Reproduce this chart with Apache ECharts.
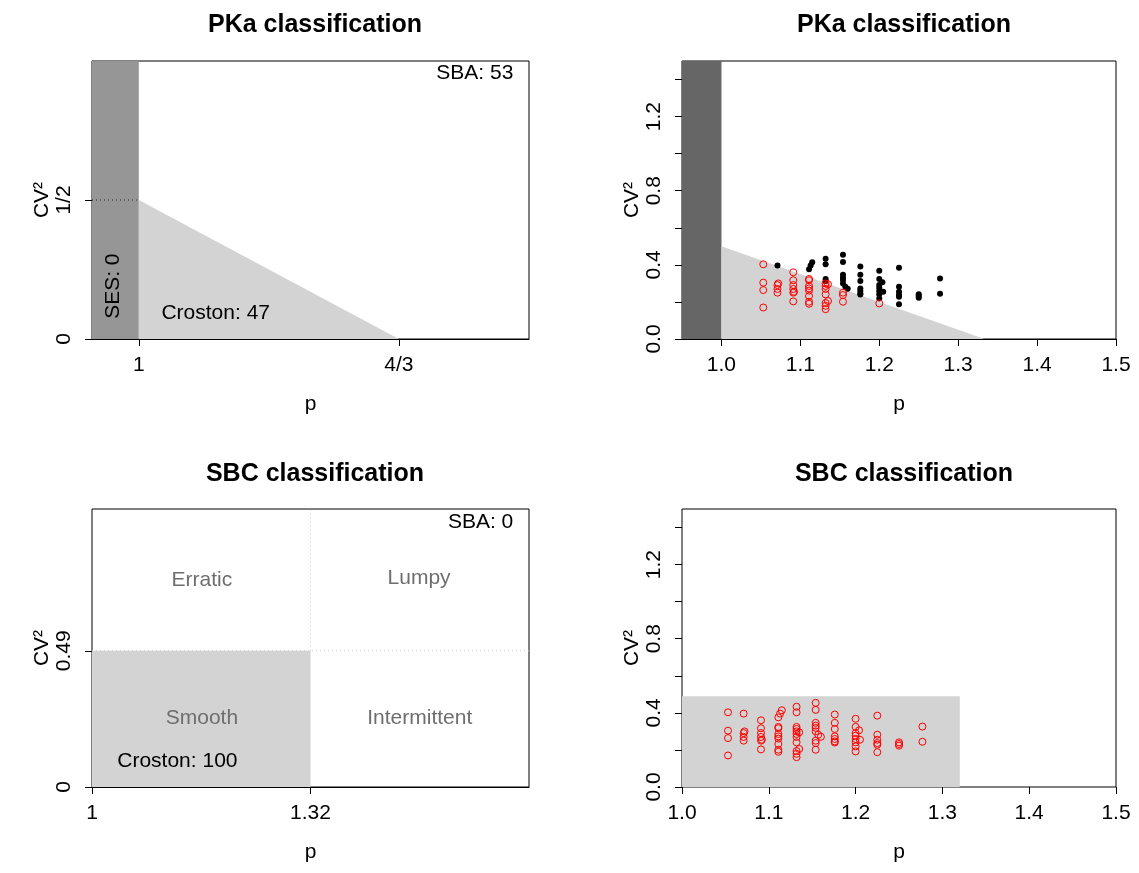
<!DOCTYPE html>
<html>
<head>
<meta charset="utf-8">
<script src="https://cdn.jsdelivr.net/npm/echarts@6/dist/echarts.min.js"></script>
<style>
  html, body { margin: 0; padding: 0; background: #fff; }
  #main { width: 1139px; height: 873px; }
</style>
</head>
<body>
<div id="main"></div>
<script>
// demand series: p (inter-demand interval) and CV^2
const pVals = [
  1.053, 1.053, 1.053, 1.053,
  1.071, 1.072, 1.071, 1.071, 1.071,
  1.091, 1.091, 1.091, 1.091, 1.092, 1.091, 1.091,
  1.115, 1.113, 1.111, 1.111, 1.111, 1.111, 1.111, 1.111, 1.111, 1.111, 1.111,
  1.132, 1.132, 1.132, 1.132, 1.132, 1.135, 1.132, 1.132, 1.132, 1.135, 1.132, 1.132, 1.132,
  1.154, 1.154, 1.154, 1.154, 1.154, 1.154, 1.157, 1.160, 1.154, 1.154, 1.154,
  1.176, 1.176, 1.176, 1.176, 1.176, 1.176, 1.176,
  1.200, 1.200, 1.204, 1.200, 1.200, 1.200, 1.205, 1.200, 1.200, 1.200,
  1.225, 1.225, 1.225, 1.225, 1.225, 1.225,
  1.250, 1.250, 1.250,
  1.277, 1.277
];
const cvVals = [
  0.403, 0.304, 0.264, 0.170,
  0.396, 0.300, 0.291, 0.270, 0.250,
  0.360, 0.317, 0.291, 0.270, 0.255, 0.250, 0.203,
  0.414, 0.396, 0.376, 0.324, 0.317, 0.286, 0.273, 0.261, 0.232, 0.201, 0.190,
  0.433, 0.403, 0.324, 0.313, 0.300, 0.295, 0.286, 0.270, 0.241, 0.205, 0.194, 0.179, 0.161,
  0.454, 0.416, 0.346, 0.331, 0.319, 0.300, 0.282, 0.271, 0.250, 0.237, 0.201,
  0.391, 0.346, 0.313, 0.273, 0.259, 0.246, 0.240,
  0.368, 0.324, 0.306, 0.291, 0.277, 0.259, 0.255, 0.241, 0.219, 0.192,
  0.385, 0.282, 0.255, 0.237, 0.228, 0.188,
  0.241, 0.232, 0.223,
  0.326, 0.244
];

// classification cut-offs
const sesLimit = 1;
const pkaPCut = 1.3333;
const pkaCvCut = 0.5;
const sbcPCut = 1.32;
const sbcCvCut = 0.49;

// counts shown on the plots
const pkaCounts = { ses: 0, croston: 47, sba: 53 };
const sbcCounts = { croston: 100, sba: 0 };

// tick values and labels
const pkaTicksP = [1, 1.3333];
const pkaTickLabelsP = ['1', '4/3'];
const pkaTicksCv = [0, 0.5];
const pkaTickLabelsCv = ['0', '1/2'];
const sbcTicksP = [1, 1.32];
const sbcTickLabelsP = ['1', '1.32'];
const sbcTicksCv = [0, 0.49];
const sbcTickLabelsCv = ['0', '0.49'];
const pTicks = [1.0, 1.1, 1.2, 1.3, 1.4, 1.5];
const cvTicks = [0, 0.2, 0.4, 0.6, 0.8, 1.0, 1.2, 1.4];
const cvTickLabels = [0, 0.4, 0.8, 1.2];

const FONT = "'Liberation Sans', Arial, Helvetica, sans-serif";

const points = pVals.map((p, i) => [p, cvVals[i]]);
const belowPka = (d) => d[1] < pkaCvCut * (pkaPCut - d[0]) / (pkaPCut - sesLimit);
const pkaCroston = points.filter(belowPka);
const pkaSba = points.filter(d => !belowPka(d));

function labelMap(vals, labels) {
  const m = {};
  vals.forEach((v, i) => { m[v.toFixed(4)] = labels[i]; });
  return v => (m[v.toFixed(4)] !== undefined ? m[v.toFixed(4)] : '');
}

function xAxisCfg(gi, min, max, ticks, labelVals, fmt, showLine) {
  return {
    type: 'value', gridIndex: gi, min: min, max: max, z: 10,
    name: 'p', nameLocation: 'middle', nameGap: 55,
    nameTextStyle: { fontSize: 21, color: '#000', fontFamily: FONT },
    axisLine: { show: showLine, onZero: false, lineStyle: { color: '#000', width: 1 } },
    axisTick: { show: true, length: 7, customValues: ticks, lineStyle: { color: '#000' } },
    axisLabel: { customValues: labelVals, formatter: fmt, margin: 16, fontSize: 21, color: '#000', fontFamily: FONT },
    splitLine: { show: false }
  };
}

function yAxisCfg(gi, min, max, ticks, labelVals, fmt) {
  return {
    type: 'value', gridIndex: gi, min: min, max: max, z: 10,
    name: 'CV²', nameLocation: 'middle', nameGap: 38,
    nameTextStyle: { fontSize: 21, color: '#000', fontFamily: FONT },
    axisLine: { show: false },
    axisTick: { show: true, length: 7, customValues: ticks, lineStyle: { color: '#000' } },
    axisLabel: { customValues: labelVals, formatter: fmt, rotate: 90, margin: 17, fontSize: 21, color: '#000', fontFamily: FONT },
    splitLine: { show: false }
  };
}

// filled polygons / lines given in data coordinates
function shapeSeries(gi, shapes) {
  return {
    type: 'custom', xAxisIndex: gi, yAxisIndex: gi, z: 1, silent: true,
    data: shapes.map((s, i) => [i, 0]),
    renderItem: function (params, api) {
      const s = shapes[params.dataIndex];
      const pts = s.pts.map(q => api.coord(q));
      if (s.fill) {
        return { type: 'polygon', shape: { points: pts }, style: { fill: s.fill, stroke: null } };
      }
      return { type: 'polyline', shape: { points: pts },
        style: { stroke: s.stroke, lineWidth: 1, lineDash: [1, 3], fill: null } };
    }
  };
}

function textSeries(gi, notes) {
  return {
    type: 'custom', xAxisIndex: gi, yAxisIndex: gi, z: 5, silent: true,
    data: notes.map((n, i) => [i, 0]),
    renderItem: function (params, api) {
      const n = notes[params.dataIndex];
      const c = api.coord([n.p, n.cv]);
      return {
        type: 'text', x: c[0], y: c[1], rotation: n.rot || 0,
        style: { text: n.text, fill: n.color || '#000', font: '21px ' + FONT,
          align: n.align || 'center', verticalAlign: 'middle' }
      };
    }
  };
}

const grids = [
  { left: 92, top: 61, width: 437, height: 278 },
  { left: 682, top: 61, width: 434, height: 278 },
  { left: 92, top: 509, width: 437, height: 278 },
  { left: 682, top: 509, width: 434, height: 278 }
].map(g => Object.assign(g, { show: true, borderColor: '#000', borderWidth: 1, backgroundColor: 'transparent' }));

const titleCfg = (text, cx, top) => ({
  text: text, left: cx, top: top, textAlign: 'center',
  textStyle: { fontSize: 25, fontWeight: 'bold', color: '#000', fontFamily: FONT }
});

const grey = '#6e6e6e';

const option = {
  animation: false,
  backgroundColor: '#fff',
  title: [
    titleCfg('PKa classification', 310, 8),
    titleCfg('PKa classification', 899, 8),
    titleCfg('SBC classification', 310, 457),
    titleCfg('SBC classification', 899, 457)
  ],
  grid: grids,
  xAxis: [
    xAxisCfg(0, 0.94, 1.5, pkaTicksP, pkaTicksP, labelMap(pkaTicksP, pkaTickLabelsP), true),
    xAxisCfg(1, 0.95, 1.5, pTicks, pTicks, v => v.toFixed(1), true),
    xAxisCfg(2, 1, 1.64, sbcTicksP, sbcTicksP, labelMap(sbcTicksP, sbcTickLabelsP), true),
    xAxisCfg(3, 1, 1.5, pTicks, pTicks, v => v.toFixed(1), false)
  ],
  yAxis: [
    yAxisCfg(0, 0, 1, pkaTicksCv, pkaTicksCv, labelMap(pkaTicksCv, pkaTickLabelsCv)),
    yAxisCfg(1, 0, 1.5, cvTicks, cvTickLabels, v => v.toFixed(1)),
    yAxisCfg(2, 0, 1, sbcTicksCv, sbcTicksCv, labelMap(sbcTicksCv, sbcTickLabelsCv)),
    yAxisCfg(3, 0, 1.5, cvTicks, cvTickLabels, v => v.toFixed(1))
  ],
  series: [
    // PKa scheme
    shapeSeries(0, [
      { pts: [[0.94, 0], [sesLimit, 0], [sesLimit, 1], [0.94, 1]], fill: '#969696' },
      { pts: [[sesLimit, 0], [sesLimit, pkaCvCut], [pkaPCut, 0]], fill: '#d3d3d3' },
      { pts: [[0.94, pkaCvCut], [sesLimit, pkaCvCut]], stroke: '#222' }
    ]),
    textSeries(0, [
      { text: 'SBA: ' + pkaCounts.sba, p: 1.48, cv: 0.955, align: 'right' },
      { text: 'Croston: ' + pkaCounts.croston, p: 1.029, cv: 0.094, align: 'left' },
      { text: 'SES: ' + pkaCounts.ses, p: 0.967, cv: 0.19, rot: Math.PI / 2 }
    ]),
    // PKa with data
    shapeSeries(1, [
      { pts: [[0.95, 0], [sesLimit, 0], [sesLimit, 1.5], [0.95, 1.5]], fill: '#666666' },
      { pts: [[sesLimit, 0], [sesLimit, pkaCvCut], [pkaPCut, 0]], fill: '#d3d3d3' }
    ]),
    {
      type: 'scatter', xAxisIndex: 1, yAxisIndex: 1, z: 3, data: pkaSba,
      symbol: 'circle', symbolSize: 6, itemStyle: { color: '#000', opacity: 1 }
    },
    {
      type: 'scatter', xAxisIndex: 1, yAxisIndex: 1, z: 3, data: pkaCroston,
      symbol: 'circle', symbolSize: 7,
      itemStyle: { color: 'transparent', borderColor: '#ff0000', borderWidth: 1, opacity: 1 }
    },
    // SBC scheme
    shapeSeries(2, [
      { pts: [[1, 0], [sbcPCut, 0], [sbcPCut, sbcCvCut], [1, sbcCvCut]], fill: '#d3d3d3' },
      { pts: [[sbcPCut, sbcCvCut], [sbcPCut, 1]], stroke: '#c8c8c8' },
      { pts: [[1, sbcCvCut], [1.64, sbcCvCut]], stroke: '#c8c8c8' }
    ]),
    textSeries(2, [
      { text: 'Erratic', p: 1.161, cv: 0.745, color: grey },
      { text: 'Lumpy', p: 1.479, cv: 0.752, color: grey },
      { text: 'Smooth', p: 1.161, cv: 0.248, color: grey },
      { text: 'Intermittent', p: 1.48, cv: 0.248, color: grey },
      { text: 'SBA: ' + sbcCounts.sba, p: 1.617, cv: 0.953, align: 'right' },
      { text: 'Croston: ' + sbcCounts.croston, p: 1.037, cv: 0.091, align: 'left' }
    ]),
    // SBC with data
    shapeSeries(3, [
      { pts: [[1, 0], [sbcPCut, 0], [sbcPCut, sbcCvCut], [1, sbcCvCut]], fill: '#d3d3d3' }
    ]),
    {
      type: 'scatter', xAxisIndex: 3, yAxisIndex: 3, z: 3, data: points,
      symbol: 'circle', symbolSize: 7,
      itemStyle: { color: 'transparent', borderColor: '#ff0000', borderWidth: 1, opacity: 1 }
    }
  ]
};

const chart = echarts.init(document.getElementById('main'), null, { renderer: 'canvas' });
chart.setOption(option);
</script>
</body>
</html>
